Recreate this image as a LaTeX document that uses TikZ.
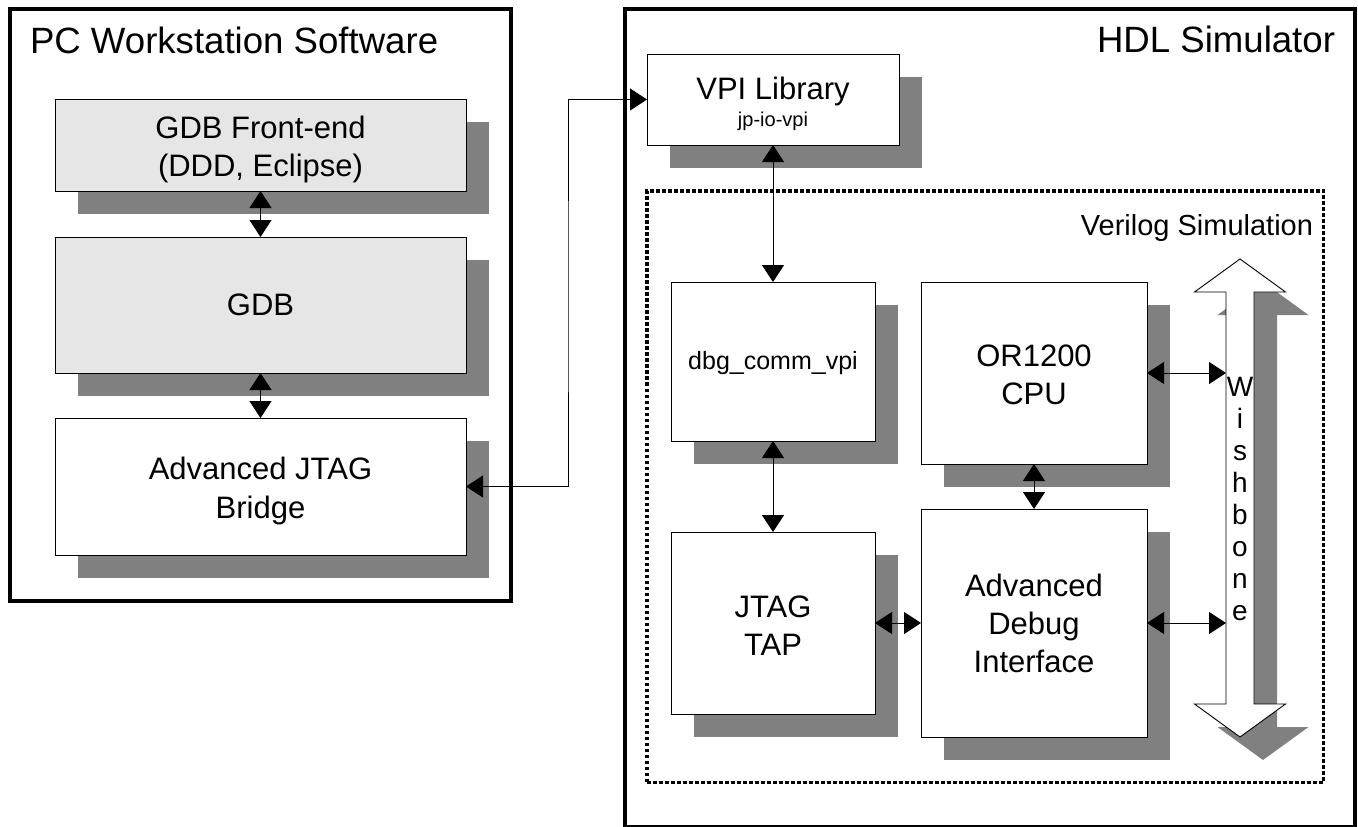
\documentclass[tikz,border=0pt]{standalone}
\usepackage{fontspec}
\setmainfont{Liberation Sans}
\usetikzlibrary{arrows.meta,shadows}
\definecolor{shadowgray}{RGB}{128,128,128}
\definecolor{lightfill}{RGB}{230,230,230}
\begin{document}
\begin{tikzpicture}[x=1pt,y=-1pt,
  every node/.style={inner sep=0pt, outer sep=0pt},
  blk/.style={draw=black, line width=1pt, fill=white, align=center,
     general shadow={fill=shadowgray, shadow xshift=23pt, shadow yshift=-23pt}},
  swbox/.style={blk, fill=lightfill},
  big/.style={font=\fontsize{31}{38.5}\selectfont},
  frame/.style={draw=black, line width=3.5pt},
  dbl/.style={{Triangle[length=17pt,width=22pt]}-{Triangle[length=17pt,width=22pt]}, line width=0.9pt},
  title/.style={font=\fontsize{36.6}{40}\selectfont}
]
\useasboundingbox (0,0) rectangle (1358,827);

% outer frames
\node[frame, minimum width=501pt, minimum height=592pt] (pc) at (260.5,305) {};
\node[frame, minimum width=730pt, minimum height=818pt] (hdl) at (990,418) {};
\node[draw=black, line width=3.8pt, dash pattern=on 3.6pt off 2.4pt,
      minimum width=676.5pt, minimum height=591.5pt] (vsim) at (985.25,486.75) {};

% titles
\node[title, anchor=base west] (pctitle) at (30,53) {PC Workstation Software};
\node[title, anchor=base east] (hdltitle) at (1335,52) {HDL Simulator};
\node[font=\fontsize{29}{34}\selectfont, anchor=base east] (vtitle) at (1313,235) {Verilog Simulation};

% left column
\node[swbox, big, minimum width=411pt, minimum height=92pt] (gdbfe) at (260.5,145)
  {\rule{0pt}{31.5pt}GDB Front-end\\(DDD, Eclipse)};
\node[swbox, big, minimum width=411pt, minimum height=136pt] (gdb) at (260.5,305) {GDB};
\node[blk, big, minimum width=411pt, minimum height=137pt] (bridge) at (260.5,486.5)
  {\rule{0pt}{31.5pt}Advanced JTAG\\Bridge};

% right column
\node[blk, big, minimum width=252pt, minimum height=91pt] (vpi) at (773,99.5)
  {\rule{0pt}{31pt}VPI Library\\[-12pt]{\fontsize{20}{24}\selectfont jp-io-vpi}};
\node[blk, font=\fontsize{25}{30}\selectfont, minimum width=204pt, minimum height=159pt] (dbg) at (773,361.5)
  {\rule{0pt}{22pt}dbg\_comm\_vpi};
\node[blk, font=\fontsize{31}{37.5}\selectfont, minimum width=226pt, minimum height=182pt] (cpu) at (1034,373)
  {\rule{0pt}{25pt}OR1200\\CPU};
\node[blk, font=\fontsize{31}{38}\selectfont, minimum width=204pt, minimum height=182pt] (jtag) at (773,623)
  {\rule{0pt}{26pt}JTAG\\TAP};
\node[blk, font=\fontsize{31}{38}\selectfont, minimum width=226pt, minimum height=228pt] (adi) at (1034,623)
  {\rule{0pt}{24pt}Advanced\\Debug\\Interface};

% wishbone double arrow
\begin{scope}[shift={(23,23)}]
\fill[shadowgray] (1240,259) -- (1285.5,292) -- (1254,292) -- (1254,704) -- (1285.5,704) -- (1240,737)
  -- (1194.5,704) -- (1226,704) -- (1226,292) -- (1194.5,292) -- cycle;
\end{scope}
\draw[fill=white, line width=0.9pt] (1240,259) -- (1285.5,292) -- (1254,292) -- (1254,704) -- (1285.5,704) -- (1240,737)
  -- (1194.5,704) -- (1226,704) -- (1226,292) -- (1194.5,292) -- cycle;
\node[font=\fontsize{28}{31.9}\selectfont, align=center, minimum width=28pt, minimum height=412pt] (wb) at (1240,499)
  {W\\i\\s\\h\\b\\o\\n\\e};

% connectors
\coordinate (jog) at (568,300);
\draw[dbl] (gdbfe.south) -- (gdb.north);
\draw[dbl] (gdb.south) -- (bridge.north);
\draw[dbl] (bridge.east) -| (jog) |- (vpi.west);
\draw[dbl] (vpi.south) -- (dbg.north);
\draw[dbl] (dbg.south) -- (jtag.north);
\draw[dbl] (cpu.south) -- (adi.north);
\draw[dbl] (jtag.east) -- (adi.west);
\draw[dbl] (cpu.east) -- (cpu.east -| wb.west);
\draw[dbl] (adi.east) -- (adi.east -| wb.west);
\end{tikzpicture}
\end{document}
